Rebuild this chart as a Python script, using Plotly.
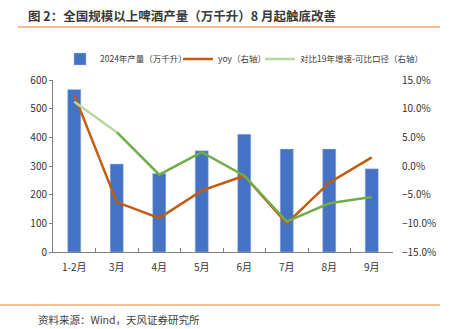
import plotly.graph_objects as go

categories = ["1-2月", "3月", "4月", "5月", "6月", "7月", "8月", "9月"]
output_2024 = [567, 307, 274, 353, 411, 359, 359, 290]
yoy = [12.4, -6.3, -9.1, -4.3, -1.7, -10.0, -2.9, 1.5]
vs2019 = [11.2, 5.9, -1.5, 2.4, -1.7, -9.7, -6.5, -5.4]

FONT = "Noto Sans CJK SC"
L, R, T, B = 53, 393, 80, 252
W = R - L
H = B - T

def px(x):
    return (x - L) / W

def py(y):
    return (B - y) / H

fig = go.Figure()
fig.add_trace(go.Bar(
    x=categories, y=output_2024, name="2024年产量（万千升）",
    marker=dict(color="#4472c4", line=dict(color="#b4c7e7", width=0.5)),
    width=0.31, yaxis="y", legend="legend"))
fig.add_trace(go.Scatter(
    x=categories, y=yoy, name="yoy（右轴）", mode="lines",
    line=dict(color="#c55a11", width=2.5), yaxis="y2", legend="legend2"))
fig.add_trace(go.Scatter(
    x=categories[1:], y=vs2019[1:], name="对比19年增速-可比口径（右轴）", mode="lines",
    line=dict(color="#70ad47", width=2.5), yaxis="y2", showlegend=False))
fig.add_trace(go.Scatter(
    x=categories[:2], y=vs2019[:2], name="对比19年增速-可比口径（右轴）", mode="lines",
    line=dict(color="#b5d99c", width=2.5), yaxis="y2", legend="legend3"))

leg_common = dict(orientation="h", yanchor="middle", y=py(59), xanchor="left",
                  font=dict(size=8.5, color="#404040"), bgcolor="rgba(0,0,0,0)",
                  itemwidth=30)

fig.update_layout(
    width=452, height=329,
    margin=dict(l=L, r=452 - R, t=T, b=329 - B),
    paper_bgcolor="white", plot_bgcolor="white",
    font=dict(family=FONT, size=10, color="#333333"),
    showlegend=True,
    legend=dict(leg_common, x=px(60)),
    legend2=dict(leg_common, x=px(178)),
    legend3=dict(leg_common, x=px(260)),
    xaxis=dict(type="category", range=[-0.5, 7.5], showline=True, linecolor="#7f7f7f",
               linewidth=1, ticks="inside", ticklen=4, tickcolor="#7f7f7f",
               tickson="boundaries", showgrid=False, ticklabelstandoff=6,
               tickfont=dict(size=10, color="#333333")),
    yaxis=dict(range=[0, 600], dtick=100, showline=True, linecolor="#7f7f7f", linewidth=1,
               ticks="outside", ticklen=3, tickcolor="#7f7f7f", showgrid=False, zeroline=False,
               tickfont=dict(size=10, color="#333333")),
    yaxis2=dict(range=[-15, 15], dtick=5, overlaying="y", side="right", showline=False,
                showgrid=False, zeroline=False, tickformat=".1f", ticksuffix="%",
                ticks="", ticklabelstandoff=8, tickfont=dict(size=10, color="#333333")),
)

fig.add_annotation(text="<b>图 2：全国规模以上啤酒产量（万千升）8 月起触底改善</b>",
                   xref="paper", yref="paper", x=px(26), y=py(15), xanchor="left", yanchor="middle",
                   showarrow=False, font=dict(family=FONT, size=12.5, color="#3a3a3a"))
fig.add_shape(type="line", xref="paper", yref="paper", x0=px(18), x1=px(440), y0=py(27), y1=py(27),
              line=dict(color="#ed7d31", width=1.2))
fig.add_shape(type="line", xref="paper", yref="paper", x0=px(0), x1=px(440), y0=py(305), y1=py(305),
              line=dict(color="#ed7d31", width=1.2))
fig.add_annotation(text="资料来源：Wind，天风证券研究所",
                   xref="paper", yref="paper", x=px(36), y=py(319), xanchor="left", yanchor="middle",
                   showarrow=False, font=dict(family=FONT, size=10.5, color="#404040"))

fig.write_html("out.html")
